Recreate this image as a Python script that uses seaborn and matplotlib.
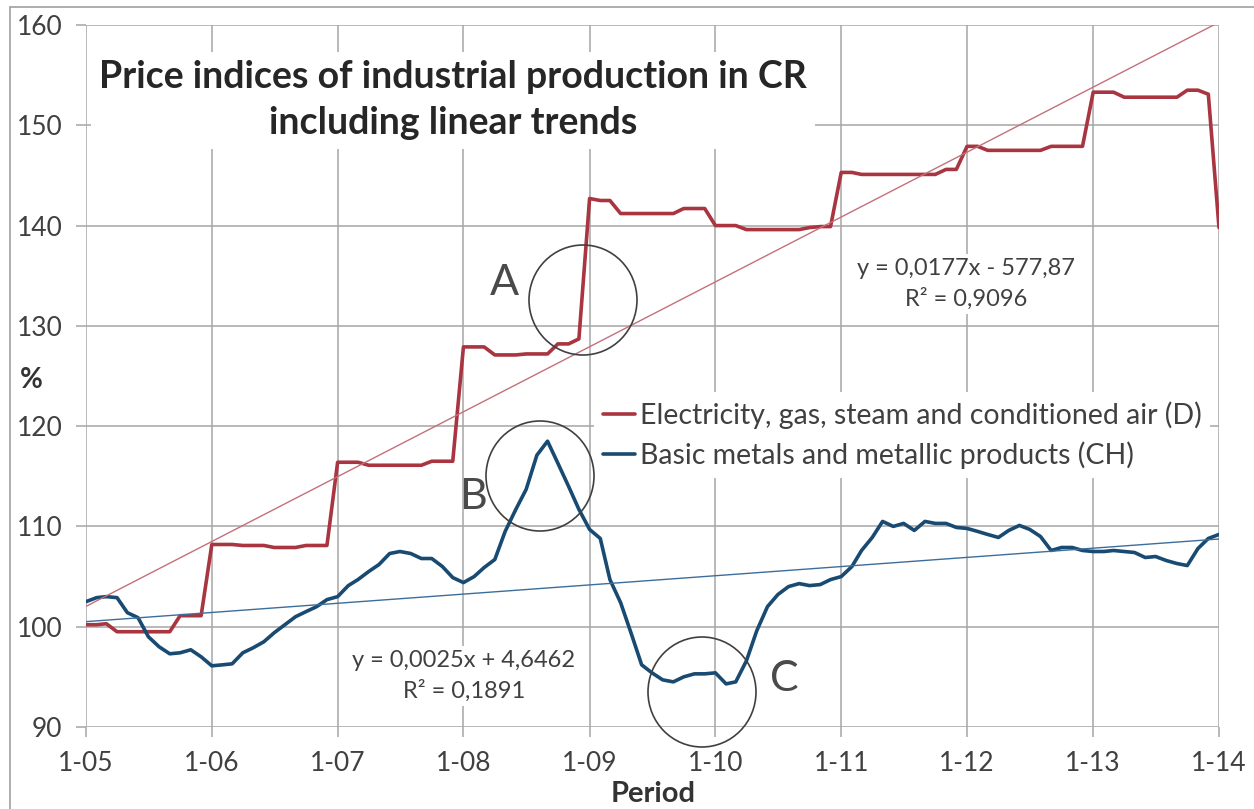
import numpy as np
import pandas as pd
import matplotlib
matplotlib.use("Agg")
import matplotlib.pyplot as plt
import matplotlib.dates as mdates
from matplotlib.patches import Ellipse
from matplotlib.lines import Line2D
import seaborn as sns

# monthly indices, Jan 2005 .. Jan 2014
months = pd.date_range("2005-01-01", "2014-01-01", freq="MS")

electricity = [
    100.2, 100.2, 100.3, 99.5, 99.5, 99.5, 99.5, 99.5, 99.5, 101.1, 101.1, 101.1,
    108.2, 108.2, 108.2, 108.1, 108.1, 108.1, 107.9, 107.9, 107.9, 108.1, 108.1, 108.1,
    116.4, 116.4, 116.4, 116.1, 116.1, 116.1, 116.1, 116.1, 116.1, 116.5, 116.5, 116.5,
    127.9, 127.9, 127.9, 127.1, 127.1, 127.1, 127.2, 127.2, 127.2, 128.2, 128.2, 128.7,
    142.7, 142.5, 142.5, 141.2, 141.2, 141.2, 141.2, 141.2, 141.2, 141.7, 141.7, 141.7,
    140.0, 140.0, 140.0, 139.6, 139.6, 139.6, 139.6, 139.6, 139.6, 139.8, 139.9, 139.9,
    145.3, 145.3, 145.1, 145.1, 145.1, 145.1, 145.1, 145.1, 145.1, 145.1, 145.6, 145.6,
    147.9, 147.9, 147.5, 147.5, 147.5, 147.5, 147.5, 147.5, 147.9, 147.9, 147.9, 147.9,
    153.3, 153.3, 153.3, 152.8, 152.8, 152.8, 152.8, 152.8, 152.8, 153.5, 153.5, 153.1,
    139.8,
]
metals = [
    102.5, 102.9, 103.0, 102.9, 101.4, 100.9, 99.0, 98.0, 97.3, 97.4, 97.7, 97.0,
    96.1, 96.2, 96.3, 97.4, 97.9, 98.5, 99.4, 100.2, 101.0, 101.5, 102.0, 102.7,
    103.0, 104.1, 104.7, 105.5, 106.2, 107.3, 107.5, 107.3, 106.8, 106.8, 106.0, 104.9,
    104.4, 105.0, 105.9, 106.7, 109.5, 111.7, 113.7, 117.1, 118.5, 116.3, 114.0, 111.7,
    109.7, 108.8, 104.7, 102.4, 99.4, 96.2, 95.4, 94.7, 94.5, 95.0, 95.3, 95.3,
    95.4, 94.3, 94.5, 96.6, 99.6, 102.0, 103.2, 104.0, 104.3, 104.1, 104.2, 104.7,
    105.0, 106.0, 107.6, 108.9, 110.5, 110.0, 110.3, 109.6, 110.5, 110.3, 110.3, 109.9,
    109.8, 109.5, 109.2, 108.9, 109.6, 110.1, 109.7, 109.0, 107.6, 107.9, 107.9, 107.6,
    107.5, 107.5, 107.6, 107.5, 107.4, 106.9, 107.0, 106.6, 106.3, 106.1, 107.8, 108.8,
    109.2,
]
series_names = ["Electricity, gas, steam and conditioned air (D)",
                "Basic metals and metallic products (CH)"]
tick_years = list(range(2005, 2015))
tick_labels = [f"1-{y % 100:02d}" for y in tick_years]
eq_red = "y = 0,0177x - 577,87\nR² = 0,9096"
eq_blue = "y = 0,0025x + 4,6462\nR² = 0,1891"

red = "#A93540"
blue = "#184A72"
grey_txt = "#404040"
grid_c = "#A6A6A6"

sns.set_style("white")
plt.rcParams["font.family"] = ["Lato", "DejaVu Sans"]

df = pd.DataFrame({"date": mdates.date2num(months),
                   "elec": electricity, "metal": metals})

fig = plt.figure(figsize=(12.54, 8.09), dpi=100)
W, H = 1254, 809
ax = fig.add_axes([86 / W, 1 - 727 / H, 1133 / W, 702 / H])

sns.lineplot(data=df, x="date", y="elec", color=red, lw=2.6, ax=ax, zorder=3)
sns.lineplot(data=df, x="date", y="metal", color=blue, lw=2.6, ax=ax, zorder=3)
# linear trends
sns.regplot(data=df, x="date", y="elec", scatter=False, ci=None, truncate=True,
            line_kws=dict(color="#C4707A", lw=1.0, zorder=4), ax=ax)
sns.regplot(data=df, x="date", y="metal", scatter=False, ci=None, truncate=True,
            line_kws=dict(color="#3C6E9C", lw=1.0, zorder=4), ax=ax)

ax.set_xlim(mdates.date2num(pd.Timestamp("2005-01-01")),
            mdates.date2num(pd.Timestamp("2014-01-01")))
ax.set_ylim(90, 160)
ax.set_xticks(mdates.date2num([pd.Timestamp(f"{y}-01-01") for y in tick_years]))
ax.set_xticklabels(tick_labels)
ax.set_yticks(range(90, 161, 10))
ax.grid(True, color=grid_c, lw=1.1)
for s in ax.spines.values():
    s.set_visible(False)
ax.tick_params(axis="both", direction="out", length=7, width=1.1, color=grid_c,
               labelsize=19, labelcolor=grey_txt, bottom=True, left=True)
ax.tick_params(axis="x", pad=10)
ax.tick_params(axis="y", pad=10)
ax.set_xlabel("")
ax.set_ylabel("")

fig.text(653 / W, 1 - 794 / H, "Period", ha="center", va="center",
         fontsize=21, fontweight="bold", color="#333333")
fig.text(31 / W, 1 - 380 / H, "%", ha="center", va="center",
         fontsize=20, fontweight="bold", color="#333333")

ax.text(0.324, 0.893, "Price indices of industrial production in CR\nincluding linear trends",
        transform=ax.transAxes, ha="center", va="center", fontsize=27,
        fontweight="bold", color="#262626", linespacing=1.45, zorder=6,
        bbox=dict(facecolor="white", edgecolor="none", pad=6))

ax.text(0.7767, 0.631, eq_red, transform=ax.transAxes, ha="center", va="center",
        fontsize=17, color=grey_txt, linespacing=1.45, multialignment="center",
        zorder=6, bbox=dict(facecolor="white", edgecolor="none", pad=3))
ax.text(0.3336, 0.0726, eq_blue, transform=ax.transAxes, ha="center", va="center",
        fontsize=17, color=grey_txt, linespacing=1.45, multialignment="center",
        zorder=6, bbox=dict(facecolor="white", edgecolor="none", pad=3))

handles = [Line2D([], [], color=red, lw=2.6), Line2D([], [], color=blue, lw=2.6)]
leg = ax.legend(handles, series_names, loc="center left",
                bbox_to_anchor=((594 - 86) / 1133, (727 - 435) / 702),
                fontsize=20.5, handlelength=1.15, handletextpad=0.15,
                labelspacing=0.45, borderpad=0.3, borderaxespad=0,
                frameon=True, fancybox=False)
leg.get_frame().set_facecolor("white")
leg.get_frame().set_edgecolor("none")
leg.get_frame().set_alpha(1)
leg.set_zorder(7)
for t in leg.get_texts():
    t.set_color(grey_txt)

# highlighted regions
for cx, cy, letter, lx, ly in [(583, 300, "A", 504, 283),
                               (540, 476, "B", 473, 497),
                               (702, 692, "C", 784, 679)]:
    e = Ellipse(((cx - 86) / 1133, (727 - cy) / 702), 108 / 1133, 110 / 702,
                transform=ax.transAxes, fill=False, ec="#404040", lw=1.2,
                zorder=8, clip_on=False)
    ax.add_patch(e)
    ax.text((lx - 86) / 1133, (727 - ly) / 702, letter, transform=ax.transAxes,
            ha="center", va="center", fontsize=31, color="#4a4a4a", zorder=8)

# chart area border
fig.add_artist(Line2D([10 / W, 1], [1 - 7 / H, 1 - 7 / H], color="#A0A0A0", lw=1.2))
fig.add_artist(Line2D([10 / W, 10 / W], [0, 1 - 7 / H], color="#A0A0A0", lw=1.2))

fig.savefig("out.png", dpi=100)
